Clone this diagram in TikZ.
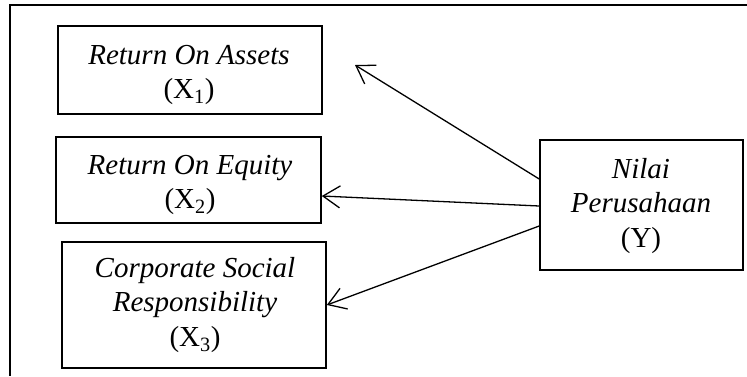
\documentclass[tikz,border=0pt]{standalone}
\usepackage{fontspec}
\setmainfont{Liberation Serif}
\usetikzlibrary{arrows.meta}
\begin{document}
\begin{tikzpicture}[x=1pt,y=-1pt,
  box/.style={draw,line width=1.6pt,inner sep=0pt},
  txt/.style={align=center,inner sep=0pt,font=\fontsize{29}{34.5}\selectfont},
  link/.style={line width=1.3pt,-{Straight Barb[length=17pt,width=22pt,line width=1.3pt]}}]
\useasboundingbox (0,0) rectangle (747,376);
\draw[line width=1.6pt] (747,5) -- (10,5) -- (10,376);
% boxes
\node[box,minimum width=264pt,minimum height=88pt] (roa) at (190,70) {};
\node[box,minimum width=265pt,minimum height=86pt] (roe) at (188.5,180) {};
\node[box,minimum width=264pt,minimum height=126pt] (csr) at (194,305) {};
\node[box,minimum width=203pt,minimum height=130pt] (y) at (641.5,205) {};
% texts
\node[txt] (roat) at (189,75) {\textit{Return On Assets}\\(X\textsubscript{1})};
\node[txt] (roet) at (190,185) {\textit{Return On Equity}\\(X\textsubscript{2})};
\node[txt] (csrt) at (195,305) {\textit{Corporate Social}\\\textit{Responsibility}\\(X\textsubscript{3})};
\node[txt] (yt) at (641,206) {\textit{Nilai}\\\textit{Perusahaan}\\(Y)};
% connectors
\coordinate (roatip) at (355,65);
\draw[link] ([yshift=26pt]y.west) -- (roatip);
\draw[link] ([yshift=-1pt]y.west) -- ([yshift=-16pt]roe.east);
\draw[link] ([yshift=-21pt]y.west) -- (csr.east);
\end{tikzpicture}
\end{document}
